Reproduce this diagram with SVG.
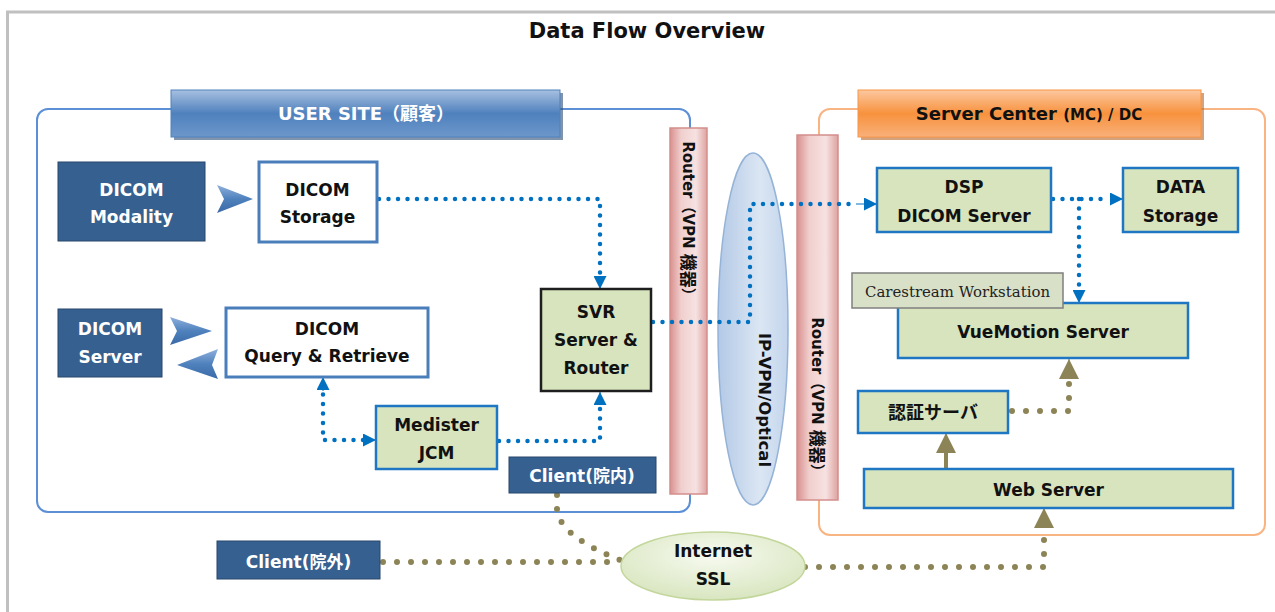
<svg xmlns="http://www.w3.org/2000/svg" width="1275" height="612" viewBox="0 0 1275 612">
<defs>
<linearGradient id="gHdrBlue" x1="0" y1="0" x2="0" y2="1">
<stop offset="0" stop-color="#a7c0e0"/><stop offset="0.5" stop-color="#4f81bd"/><stop offset="1" stop-color="#6d97cb"/>
</linearGradient>
<linearGradient id="gHdrOrange" x1="0" y1="0" x2="0" y2="1">
<stop offset="0" stop-color="#fcc8a0"/><stop offset="0.5" stop-color="#f7923e"/><stop offset="1" stop-color="#f9b07a"/>
</linearGradient>
<linearGradient id="gRouter" x1="0" y1="0" x2="1" y2="0">
<stop offset="0" stop-color="#d9908e"/><stop offset="0.3" stop-color="#f0cfce"/><stop offset="0.7" stop-color="#f6e2e1"/><stop offset="1" stop-color="#dea3a1"/>
</linearGradient>
<linearGradient id="gVpn" x1="0" y1="0" x2="1" y2="0">
<stop offset="0" stop-color="#b3c9e6"/><stop offset="0.6" stop-color="#dbe6f3"/><stop offset="1" stop-color="#c2d4ec"/>
</linearGradient>
<radialGradient id="gNet" cx="0.5" cy="0.35" r="0.7">
<stop offset="0" stop-color="#f7faf0"/><stop offset="1" stop-color="#d6e4bc"/>
</radialGradient>
<linearGradient id="gTri" x1="0" y1="0" x2="0" y2="1">
<stop offset="0" stop-color="#8fb0dc"/><stop offset="0.5" stop-color="#4f81bd"/><stop offset="1" stop-color="#3a6aa8"/>
</linearGradient>
<marker id="mBlue" viewBox="0 0 10 10" refX="10" refY="5" markerWidth="13" markerHeight="13" markerUnits="userSpaceOnUse" orient="auto">
<path d="M0,0 L10,5 L0,10 Z" fill="#0070c0"/>
</marker>
<marker id="mOlive" viewBox="0 0 10 10" refX="10" refY="5" markerWidth="20" markerHeight="20" markerUnits="userSpaceOnUse" orient="auto">
<path d="M0,0 L10,5 L0,10 Z" fill="#8c8456"/>
</marker>
</defs>
<style>
.t{font-family:"DejaVu Sans","Noto Sans CJK JP",sans-serif;font-weight:bold;font-size:17px;text-anchor:middle;fill:#111}
.w{fill:#fff}
.dark{fill:#36608f;stroke:#27466b;stroke-width:1}
.white{fill:#fff;stroke:#4a7ebb;stroke-width:3}
.green{fill:#d7e4bd;stroke:#1f77c4;stroke-width:2.5}
.bd{fill:none;stroke:#0070c0;stroke-width:4.5;stroke-linecap:round;stroke-dasharray:0 9.5}
.od{fill:none;stroke:#8c8456;stroke-width:6;stroke-linecap:round;stroke-dasharray:0 14}
.router{fill:url(#gRouter);stroke:#d48e8c;stroke-width:1.5}
.am{stroke:#0070c0;stroke-width:1}
.ao{stroke:#8c8456;stroke-width:1}
.cjk{font-size:17px}
</style>
<rect width="1275" height="612" fill="#fff"/>
<path d="M7.5,612 V12 H1275" fill="none" stroke="#c0c0c0" stroke-width="3"/>
<text class="t" x="647" y="38" style="font-size:21px">Data Flow Overview</text>

<g id="user-site">
<rect x="37" y="109" width="653" height="403" rx="11" fill="none" stroke="#5b8fd6" stroke-width="2"/>
<rect x="174" y="93" width="389" height="47" fill="#2c4c73" opacity="0.6"/>
<rect x="171" y="90" width="389" height="47" fill="url(#gHdrBlue)" stroke="#4f81bd" stroke-width="1"/>
<text class="t w" x="366" y="120" style="font-size:18px">USER SITE（顧客）</text>
</g>
<g id="server-center">
<rect x="819" y="109" width="446" height="426" rx="11" fill="none" stroke="#f8b482" stroke-width="2"/>
<rect x="861" y="93" width="343" height="47" fill="#b5652a" opacity="0.6"/>
<rect x="858" y="90" width="343" height="47" fill="url(#gHdrOrange)" stroke="#f79646" stroke-width="1"/>
<text class="t" x="1029" y="120" style="font-size:18px">Server Center <tspan style="font-size:15px">(MC) / DC</tspan></text>
</g>

<g id="router-left">
<rect class="router" x="670" y="128" width="37" height="366"/>
<text class="t" transform="translate(688,222) rotate(90)" dominant-baseline="central" style="font-size:15px">Router（VPN <tspan class="cjk">機器</tspan>）</text>
</g>
<g id="ip-vpn">
<ellipse cx="753" cy="329" rx="35" ry="176" fill="url(#gVpn)" stroke="#95b3d7" stroke-width="1.5"/>
<text class="t" transform="translate(764,400) rotate(90)" dominant-baseline="central" style="font-size:16.5px">IP-VPN/Optical</text>
</g>
<g id="router-right">
<rect class="router" x="797" y="135" width="41" height="365"/>
<text class="t" transform="translate(817,398) rotate(90)" dominant-baseline="central" style="font-size:15px">Router（VPN <tspan class="cjk">機器</tspan>）</text>
</g>

<g id="connectors">
<path class="bd" d="M379,199 H600 V276"/>
<path class="am" d="M600,276 V289" marker-end="url(#mBlue)"/>
<path class="bd" d="M363,440 H323 V391"/>
<path class="am" d="M363,440 H376" marker-end="url(#mBlue)"/>
<path class="am" d="M323,391 V377" marker-end="url(#mBlue)"/>
<path class="bd" d="M499,441 H600 V405"/>
<path class="am" d="M600,405 V392" marker-end="url(#mBlue)"/>
<path class="bd" d="M653,322 H750 V204 H858"/>
<path class="am" d="M856,204 H877" marker-end="url(#mBlue)"/>
<path class="bd" d="M1053,199 H1110"/>
<path class="am" d="M1110,199 H1123" marker-end="url(#mBlue)"/>
<path class="bd" d="M1079,199 V290"/>
<path class="am" d="M1079,290 V303" marker-end="url(#mBlue)"/>
<path class="od" d="M383,562 H620"/>
<path class="od" d="M557,495 V510 C560,532 590,548 620,560"/>
<path class="od" d="M805,567 H1044 V528"/>
<path class="ao" d="M1044,528 V508" marker-end="url(#mOlive)"/>
<path d="M946,469 V446" stroke="#8c8456" stroke-width="4"/>
<path class="ao" d="M946,450 V433" marker-end="url(#mOlive)"/>
<path class="od" d="M1012,411 H1069 V380"/>
<path class="ao" d="M1069,378 V359" marker-end="url(#mOlive)"/>
<path d="M217,185 L253,199 L217,213 L224,199 Z" fill="url(#gTri)"/>
<path d="M170,317 L212,331 L170,345 L177,331 Z" fill="url(#gTri)"/>
<path d="M218,349 L177,365 L218,379 L212,365 Z" fill="url(#gTri)"/>
</g>

<g id="dicom-modality">
<rect class="dark" x="58" y="162" width="147" height="79"/>
<text class="t w" x="131.5" y="196">DICOM</text>
<text class="t w" x="131.5" y="223">Modality</text>
</g>
<g id="dicom-storage">
<rect class="white" x="259" y="162" width="118" height="80"/>
<text class="t" x="317.5" y="196">DICOM</text>
<text class="t" x="317.5" y="223">Storage</text>
</g>
<g id="dicom-server">
<rect class="dark" x="58" y="309" width="104" height="68"/>
<text class="t w" x="110" y="335">DICOM</text>
<text class="t w" x="110" y="363">Server</text>
</g>
<g id="dicom-qr">
<rect class="white" x="226" y="308" width="202" height="69"/>
<text class="t" x="327" y="335">DICOM</text>
<text class="t" x="327" y="362">Query &amp; Retrieve</text>
</g>
<g id="svr">
<rect x="541" y="289" width="110" height="102" fill="#d7e4bd" stroke="#1e1e1e" stroke-width="2.5"/>
<text class="t" x="596" y="318">SVR</text>
<text class="t" x="596" y="346">Server &amp;</text>
<text class="t" x="596" y="374">Router</text>
</g>
<g id="medister">
<rect class="green" x="376" y="406" width="121" height="63"/>
<text class="t" x="436.5" y="431">Medister</text>
<text class="t" x="436.5" y="459">JCM</text>
</g>
<g id="client-in">
<rect class="dark" x="509" y="457" width="147" height="36"/>
<text class="t w" x="582" y="482">Client(院内)</text>
</g>
<g id="client-out">
<rect class="dark" x="217" y="541" width="163" height="38"/>
<text class="t w" x="298.5" y="568">Client(院外)</text>
</g>
<g id="internet">
<ellipse cx="713" cy="566" rx="92" ry="34" fill="url(#gNet)" stroke="#c3d69b" stroke-width="1.5"/>
<text class="t" x="713" y="557">Internet</text>
<text class="t" x="713" y="585">SSL</text>
</g>
<g id="dsp">
<rect class="green" x="877" y="168" width="174" height="64"/>
<text class="t" x="964" y="193">DSP</text>
<text class="t" x="964" y="222">DICOM Server</text>
</g>
<g id="data-storage">
<rect class="green" x="1123" y="168" width="115" height="64"/>
<text class="t" x="1180.5" y="193">DATA</text>
<text class="t" x="1180.5" y="222">Storage</text>
</g>
<g id="vuemotion">
<rect class="green" x="898" y="303" width="290" height="55"/>
<text class="t" x="1043" y="338">VueMotion Server</text>
</g>
<g id="carestream">
<rect x="852" y="273" width="211" height="35" fill="#d9e0c8" stroke="#7f7f7f" stroke-width="1.5"/>
<text x="957.5" y="297" text-anchor="middle" style="font-family:'DejaVu Serif',serif;font-size:14px;fill:#222" textLength="185" lengthAdjust="spacingAndGlyphs">Carestream Workstation</text>
</g>
<g id="auth">
<rect class="green" x="858" y="391" width="150" height="42"/>
<text class="t" x="933" y="419" style="font-size:18px;font-family:'Noto Sans CJK JP',sans-serif">認証サーバ</text>
</g>
<g id="web-server">
<rect class="green" x="864" y="469" width="369" height="39"/>
<text class="t" x="1048.5" y="496">Web Server</text>
</g>
</svg>
